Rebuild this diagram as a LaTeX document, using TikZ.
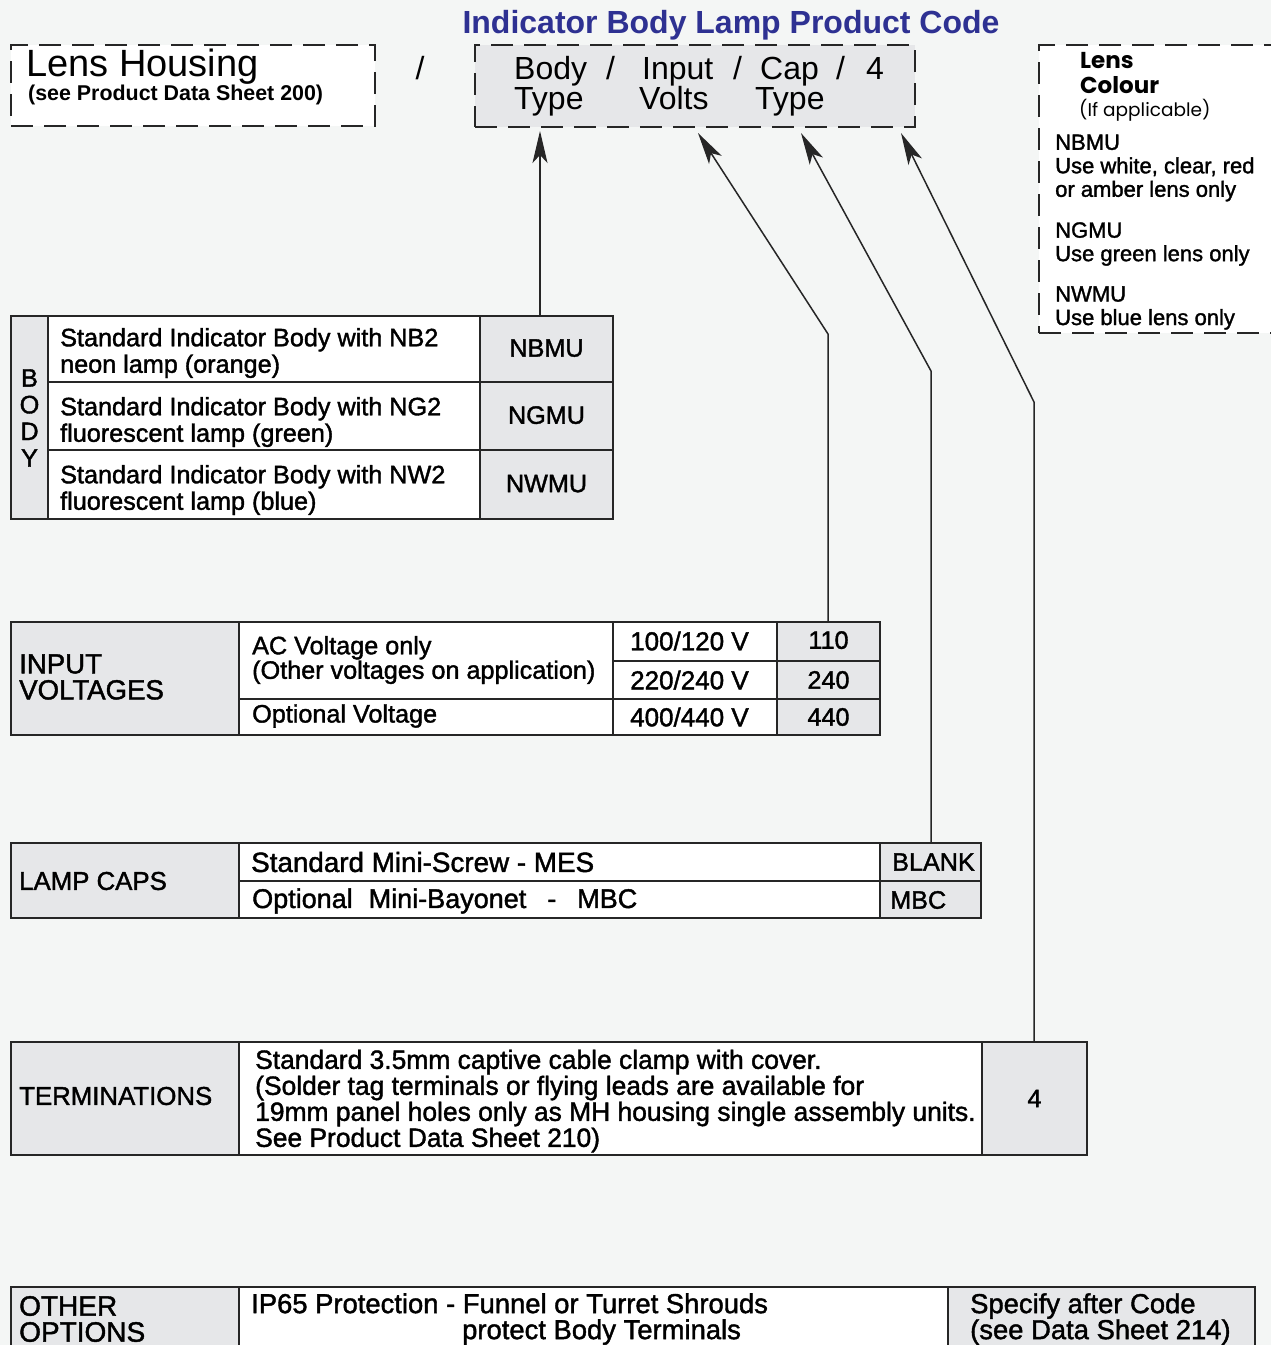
\documentclass[tikz,border=0pt]{standalone}
\usepackage{fontspec}
\setmainfont{Liberation Sans}
\newfontfamily\medfont{Liberation Sans}[FakeBold=1.5]
\newfontfamily\geo{Poppins}
\usetikzlibrary{arrows.meta}

\definecolor{pagebg}{RGB}{244,246,245}
\definecolor{cellgray}{RGB}{230,231,233}
\definecolor{titleblue}{RGB}{46,49,146}

\newcommand{\tabtxt}{\medfont\fontsize{25.2}{26.5}\selectfont}
\newcommand{\hdtxt}{\fontsize{32}{30}\selectfont}
\newcommand{\sz}[1]{\medfont\fontsize{#1}{26}\selectfont}

% cell: name, x1, y1, x2, y2, fill, text
\newcommand{\tblcell}[7]{
\node[cell, fill=#6, minimum width={#4-#2}, minimum height={#5-#3}] (#1)
  at ({(#2+#4)/2},{(#3+#5)/2}) {#7};}

\tikzset{
  cell/.style={draw=black!85, line width=2.2pt, inner sep=0pt, font=\tabtxt},
  txt/.style={inner sep=0pt, anchor=west, align=left, font=\tabtxt},
  hd/.style={inner sep=0pt, anchor=base west, align=left, font=\hdtxt},
  dashbox/.style={draw=black!85, line width=2.4pt, dash pattern=on 22pt off 11pt, inner sep=0pt},
  lead/.style={draw=black!85, line width=1.5pt, -{Stealth[length=32pt,width=15pt,inset=8pt]}}
}

\begin{document}
\begin{tikzpicture}[x=1pt,y=-1pt]
\useasboundingbox[fill=pagebg] (0,0) rectangle (1271,1345);

% header
\node[font=\fontsize{32}{34}\selectfont\bfseries, text=titleblue, inner sep=0pt] (title) at (731,25) {Indicator Body Lamp Product Code};

\node[dashbox, fill=white, minimum width=364, minimum height=81] (housing) at (193,85.5) {};
\node[txt, font=\fontsize{38}{38}\selectfont] (lhname) at (26,67) {Lens Housing};
\node[txt, font=\fontsize{21.4}{22}\selectfont\bfseries] (lhsheet) at (28,95) {(see Product Data Sheet 200)};
\node[inner sep=0pt, font=\hdtxt] (sep) at (420,68) {/};

\node[dashbox, fill=cellgray, minimum width=440, minimum height=82] (code) at (695,86) {};
\node[hd] (cbody) at (514,109.5) {Body\\Type};
\node[hd] (s1) at (606,79.5) {/};
\node[hd] (cvolts) at (639,109.5) {\hspace*{3pt}Input\\Volts};
\node[hd] (s2) at (733,79.5) {/};
\node[hd] (ccap) at (755,109.5) {\hspace*{5pt}Cap\\Type};
\node[hd] (s3) at (836,79.5) {/};
\node[hd] (cterm) at (866,79.5) {4};

\node[dashbox, fill=white, minimum width=260, minimum height=288] (lens) at (1169,189) {};
\node[txt, font=\geo\bfseries\fontsize{23}{25}\selectfont] (lenshd) at (1080,73) {Lens\\Colour};
\node[txt, font=\geo\fontsize{18.5}{20}\selectfont] (lensif) at (1079,110) {(If applicable)};
\node[txt, font=\medfont\fontsize{22}{23.5}\selectfont] (lnb) at (1055,168) {NBMU\\Use white, clear, red\\or amber lens only};
\node[txt, font=\medfont\fontsize{22}{23.5}\selectfont] (lng) at (1055,244) {NGMU\\Use green lens only};
\node[txt, font=\medfont\fontsize{22}{23.5}\selectfont] (lnw) at (1055,308) {NWMU\\Use blue lens only};

% body
\tblcell{bodylbl}{11}{316}{48}{519}{cellgray}{}
\tblcell{b1}{48}{316}{480}{382}{white}{}
\tblcell{b2}{48}{382}{480}{450}{white}{}
\tblcell{b3}{48}{450}{480}{519}{white}{}
\tblcell{nbmu}{480}{316}{613}{382}{cellgray}{\raisebox{2pt}{NBMU}}
\tblcell{ngmu}{480}{382}{613}{450}{cellgray}{\raisebox{2pt}{NGMU}}
\tblcell{nwmu}{480}{450}{613}{519}{cellgray}{\raisebox{2pt}{NWMU}}
\node[inner sep=0pt, align=center, font=\medfont\fontsize{25.2}{26.7}\selectfont] (bodyv) at (29.5,418) {B\\O\\D\\Y};
\node[txt] (b1t) at (60,353) {Standard Indicator Body with NB2\\neon lamp (orange)};
\node[txt] (b2t) at (60,422) {Standard Indicator Body with NG2\\fluorescent lamp (green)};
\node[txt] (b3t) at (60,490) {Standard Indicator Body with NW2\\fluorescent lamp (blue)};

% input voltages
\tblcell{vlbl}{11}{622}{239}{735}{cellgray}{}
\tblcell{vac}{239}{622}{613}{699}{white}{}
\tblcell{vopt}{239}{699}{613}{735}{white}{}
\tblcell{v1}{613}{622}{777}{661}{white}{}
\tblcell{v2}{613}{661}{777}{699}{white}{}
\tblcell{v3}{613}{699}{777}{735}{white}{}
\tblcell{c110}{777}{622}{880}{661}{cellgray}{\raisebox{3pt}{110}}
\tblcell{c240}{777}{661}{880}{699}{cellgray}{240}
\tblcell{c440}{777}{699}{880}{735}{cellgray}{440}
\node[txt, font=\sz{27.6}] (vlblt) at (19,677) {INPUT\\VOLTAGES};
\node[txt, font=\medfont\fontsize{25.2}{24.5}\selectfont] (vact) at (252,660) {AC Voltage only\\(Other voltages on application)};
\node[txt] (voptt) at (252,716) {Optional Voltage};
\node[txt, font=\sz{26}] (v1t) at (630,641) {100/120 V};
\node[txt, font=\sz{26}] (v2t) at (630,680) {220/240 V};
\node[txt, font=\sz{26}] (v3t) at (630,717) {400/440 V};

% lamp caps
\tblcell{clbl}{11}{843}{239}{918}{cellgray}{}
\tblcell{cmes}{239}{843}{880}{881}{white}{}
\tblcell{cmbc}{239}{881}{880}{918}{white}{}
\tblcell{cblank}{880}{843}{981}{881}{cellgray}{}
\tblcell{cmbcc}{880}{881}{981}{918}{cellgray}{}
\node[txt, font=\sz{25.8}] (clblt) at (19,881) {LAMP CAPS};
\node[txt, font=\sz{27.8}] (cmest) at (251,862) {Standard Mini-Screw - MES};
\node[txt, font=\sz{27}] (cmbct) at (252,901) {Optional\hspace{16pt}Mini-Bayonet\hspace{21pt}-\hspace{21pt}MBC};
\node[txt] (cblankt) at (892,862) {BLANK};
\node[txt] (cmbcct) at (890,900) {MBC};

% terminations
\tblcell{tlbl}{11}{1042}{239}{1155}{cellgray}{}
\tblcell{tdesc}{239}{1042}{982}{1155}{white}{}
\tblcell{tcode}{982}{1042}{1087}{1155}{cellgray}{4}
\node[txt, font=\sz{25.8}] (tlblt) at (19,1096) {TERMINATIONS};
\node[txt, font=\sz{26.4}] (tdesct) at (255,1101) {Standard 3.5mm captive cable clamp with cover.\\(Solder tag terminals or flying leads are available for\\19mm panel holes only as MH housing single assembly units.\\See Product Data Sheet 210)};

% other options
\tblcell{olbl}{11}{1287}{239}{1352}{cellgray}{}
\tblcell{odesc}{239}{1287}{948}{1352}{white}{}
\tblcell{ocode}{948}{1287}{1255}{1352}{cellgray}{}
\node[txt, font=\sz{28}] (olblt) at (19,1319) {OTHER\\OPTIONS};
\node[txt, font=\sz{27.4}] (odesct) at (251,1319) {IP65 Protection - Funnel or Turret Shrouds\\\hspace*{211pt}protect Body Terminals};
\node[txt, font=\sz{27.4}] (ocodet) at (970,1319) {Specify after Code\\(see Data Sheet 214)};

% leaders
\coordinate (tBody) at (540,131);
\coordinate (tVolts) at (698,133);
\coordinate (tCap) at (801,133);
\coordinate (tTerm) at (901,133);
\coordinate (kVolts) at (828,334);
\coordinate (kCap) at (931,371);
\coordinate (kTerm) at (1034,402);
\draw[lead] (nbmu.north -| tBody) -- (tBody);
\draw[lead] (c110.north -| kVolts) -- (kVolts) -- (tVolts);
\draw[lead] (cblank.north -| kCap) -- (kCap) -- (tCap);
\draw[lead] (tcode.north -| kTerm) -- (kTerm) -- (tTerm);

\end{tikzpicture}
\end{document}
